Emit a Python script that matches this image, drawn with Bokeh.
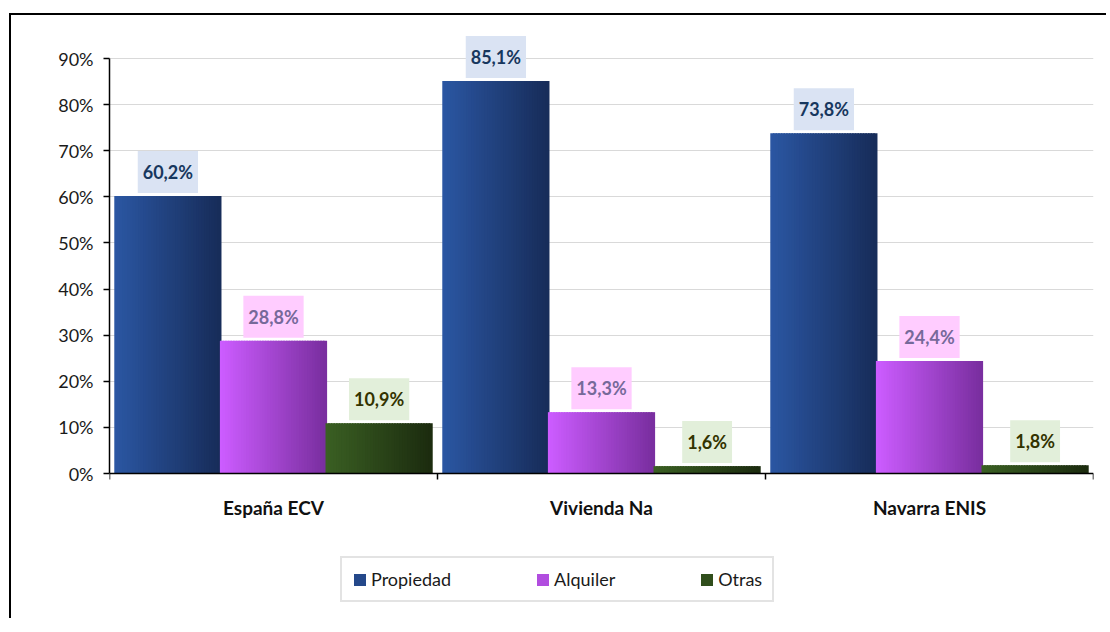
from bokeh.plotting import figure
from bokeh.models import (ColumnDataSource, Range1d, FixedTicker,
                          Legend, LegendItem, Span)
from bokeh.core.properties import value
from bokeh.embed import file_html
from bokeh.resources import INLINE

categories = ["España ECV", "Vivienda Na", "Navarra ENIS"]
series_names = ["Propiedad", "Alquiler", "Otras"]
propiedad = [60.2, 85.1, 73.8]
alquiler = [28.8, 13.3, 24.4]
otras = [10.9, 1.6, 1.8]
y_ticks = [0, 10, 20, 30, 40, 50, 60, 70, 80, 90]

series_values = [propiedad, alquiler, otras]
grad_left = ["#2b56a2", "#cc5cff", "#3a5f23"]
grad_right = ["#172d5a", "#7a2fa0", "#1c2c0f"]
label_text_colors = ["#17375e", "#76699a", "#333300"]
label_bg_colors = ["#dae3f3", "#ffccff", "#e2efda"]

FONT = "Lato"
W, H = 1097, 605
TOP, BOTTOM_PAD = 15, 0
# plot area: 90 units span 415 px; value 0 sits 443 px below the frame top
PPU = 415 / 90.0
frame_h = H - TOP - BOTTOM_PAD
y_end = 443 / PPU
y_start = y_end - frame_h / PPU

p = figure(width=W, height=H, output_backend="svg", toolbar_location=None,
           x_range=Range1d(0, len(categories)), y_range=Range1d(y_start, y_end),
           min_border_left=98, min_border_right=15, min_border_top=TOP,
           min_border_bottom=BOTTOM_PAD)
p.styles = {"margin-left": "9px", "margin-top": "13px",
            "border-left": "2px solid black", "border-top": "2px solid black"}
p.outline_line_color = None
p.background_fill_color = "white"
p.border_fill_color = "white"


def hex2rgb(h):
    h = h.lstrip("#")
    return [int(h[i:i + 2], 16) for i in (0, 2, 4)]


def lerp(c1, c2, t):
    a, b = hex2rgb(c1), hex2rgb(c2)
    return "#%02x%02x%02x" % tuple(int(round(a[i] + (b[i] - a[i]) * t)) for i in range(3))


# grid first (below bars)
p.xgrid.grid_line_color = None
p.ygrid.ticker = FixedTicker(ticks=y_ticks[1:])
p.ygrid.grid_line_color = "#d9d9d9"
p.ygrid.grid_line_width = 1

BW = 0.322
NS = 40
offsets = [-BW, 0.0, BW]
legend_items = []
for j, vals in enumerate(series_values):
    xs, tops, cols = [], [], []
    for i, v in enumerate(vals):
        left = i + 0.5 + offsets[j] - BW / 2
        for k in range(NS):
            xs.append(left + (k + 0.5) * BW / NS)
            tops.append(v)
            cols.append(lerp(grad_left[j], grad_right[j], k / (NS - 1)))
    src = ColumnDataSource(dict(x=xs, top=tops, color=cols))
    r = p.vbar(x="x", top="top", bottom=0, width=BW / NS * 1.6, source=src,
               fill_color="color", line_color=None)
    legend_items.append(LegendItem(label=series_names[j], renderers=[r], index=NS // 3))

    lsrc = ColumnDataSource(dict(
        x=[i + 0.5 + offsets[j] for i in range(len(vals))],
        y=vals,
        t=[("%.1f%%" % v).replace(".", ",") for v in vals]))
    p.text(x="x", y="y", text="t", source=lsrc, y_offset=-24,
           text_align="center", text_baseline="middle",
           text_font=value(FONT), text_font_style="bold", text_font_size="18px",
           text_color=label_text_colors[j],
           background_fill_color=label_bg_colors[j],
           padding=dict(left=5, right=5, top=10, bottom=10))

# category (x) axis drawn at value 0 inside the plot area
p.xaxis.visible = False
p.add_layout(Span(location=0, dimension="width", line_color="black", line_width=1.5))
bounds = list(range(len(categories) + 1))
p.segment(x0=bounds, x1=bounds, y0=[0] * len(bounds), y1=[-6 / PPU] * len(bounds),
          line_color="black", line_width=1.5)
csrc = ColumnDataSource(dict(x=[i + 0.5 for i in range(len(categories))],
                             y=[0] * len(categories), t=categories))
p.text(x="x", y="y", text="t", source=csrc, y_offset=34,
       text_align="center", text_baseline="middle",
       text_font=value(FONT), text_font_style="bold", text_font_size="19px",
       text_color="#111111")

ya = p.yaxis[0]
ya.ticker = FixedTicker(ticks=y_ticks, minor_ticks=[])
ya.bounds = (0, 90)
ya.major_label_overrides = {t: "%d%%" % t for t in y_ticks}
ya.major_tick_line_color = "black"
ya.major_tick_line_width = 1.5
ya.major_tick_out = 6
ya.major_tick_in = 0
ya.minor_tick_line_color = None
ya.axis_line_color = "black"
ya.axis_line_width = 1.5
ya.major_label_standoff = 10
ya.major_label_text_font = FONT
ya.major_label_text_font_size = "18px"
ya.major_label_text_color = "#1a1a1a"

legend = Legend(items=legend_items, orientation="horizontal", location=(231, 18),
                glyph_width=15, glyph_height=15, label_standoff=4, spacing=84,
                padding=10, margin=0, border_line_color="#c8c8c8", border_line_width=2,
                label_text_font=FONT, label_text_font_size="18px",
                label_text_color="#1a1a1a", background_fill_alpha=1)
p.add_layout(legend, "center")

open("out.html", "w").write(file_html(p, INLINE))
